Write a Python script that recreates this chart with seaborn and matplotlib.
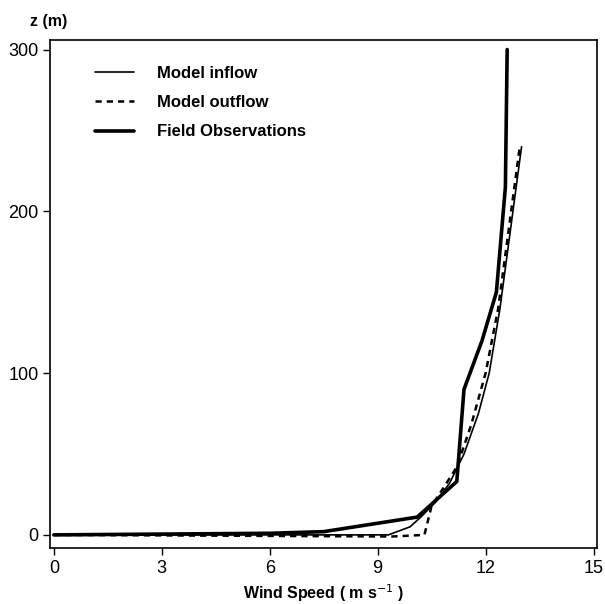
import seaborn as sns
from matplotlib import pyplot as plt
import pandas as pd

# wind speed (m/s) and height z (m)
inflow_u = [0, 9.3, 9.9, 10.2, 10.6, 11.0, 11.4, 11.8, 12.1, 12.4, 12.7, 13.0]
inflow_z = [0, 0, 5, 11, 20, 32, 50, 75, 100, 140, 190, 240]

outflow_u = [0, 9.4, 10.3, 10.5, 10.8, 11.2, 11.6, 12.0, 12.35, 12.65, 12.95]
outflow_z = [0, -1, 0, 18, 28, 42, 68, 100, 140, 190, 240]

obs_u = [0, 3, 6, 7.5, 10.1, 11.2, 11.4, 11.9, 12.3, 12.55, 12.6]
obs_z = [0, 0.5, 1, 2, 11, 33, 90, 120, 150, 215, 300]

xticks = [0, 3, 6, 9, 12, 15]
yticks = [0, 100, 200, 300]

sns.set_style('ticks')
plt.rcParams['font.family'] = ['Liberation Sans', 'DejaVu Sans']
plt.rcParams['text.color'] = 'black'
plt.rcParams['axes.labelcolor'] = 'black'

fig = plt.figure(figsize=(6.05, 6.04), dpi=100)
ax = fig.add_axes([0.083, 0.093, 0.904, 0.841])

df_in = pd.DataFrame({'u': inflow_u, 'z': inflow_z})
df_out = pd.DataFrame({'u': outflow_u, 'z': outflow_z})
df_obs = pd.DataFrame({'u': obs_u, 'z': obs_z})

sns.lineplot(data=df_in, x='u', y='z', sort=False, estimator=None, color='black',
             linewidth=1.2, label='Model inflow', ax=ax)
sns.lineplot(data=df_out, x='u', y='z', sort=False, estimator=None, color='black',
             linewidth=1.8, linestyle=(0, (2.5, 2)), label='Model outflow', ax=ax)
sns.lineplot(data=df_obs, x='u', y='z', sort=False, estimator=None, color='black',
             linewidth=2.6, label='Field Observations', ax=ax)

ax.set_xlim(-0.1, 15.1)
ax.set_ylim(-8, 306)
ax.set_xticks(xticks)
ax.set_yticks(yticks)
ax.tick_params(labelsize=13, length=5, width=1, colors='black')
for s in ax.spines.values():
    s.set_linewidth(1.2)
    s.set_color('black')

ax.set_xlabel('Wind Speed ( m s$^{-1}$ )', fontsize=11.5, fontweight='bold', labelpad=4)
ax.set_ylabel('')
fig.text(0.05, 0.965, 'z (m)', fontsize=11.5, fontweight='bold', ha='left', va='center')

leg = ax.legend(loc='upper left', bbox_to_anchor=(0.055, 0.978), frameon=False,
                fontsize=12, handlelength=2.3, labelspacing=0.85, handletextpad=1.4)
for t in leg.get_texts():
    t.set_fontweight('bold')
    t.set_color('black')

plt.savefig('out.png', dpi=100)
